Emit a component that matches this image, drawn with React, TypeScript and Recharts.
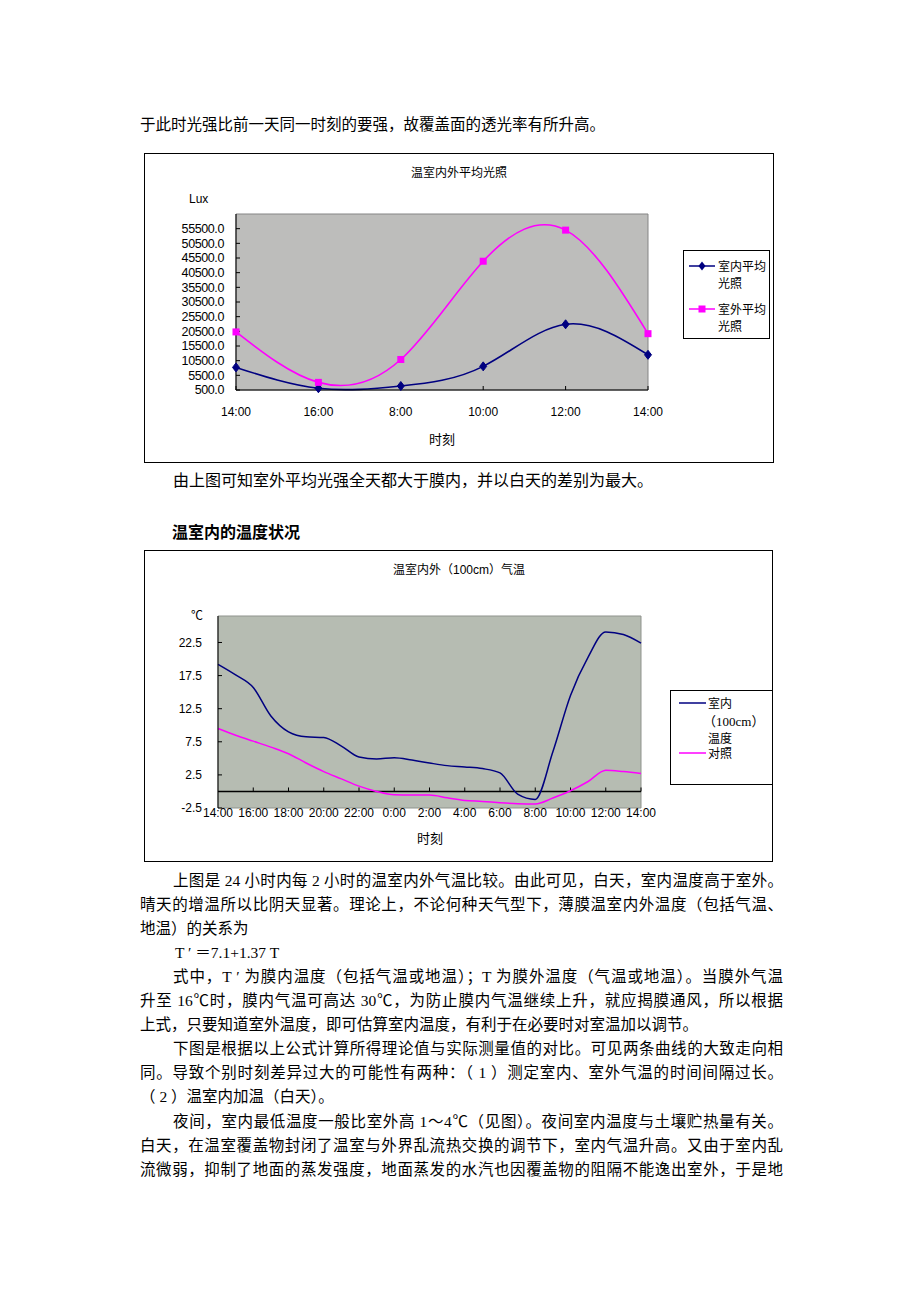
import React from 'react'
import { LineChart, Line, XAxis, YAxis, ReferenceArea, ReferenceLine, Legend } from 'recharts'

// 温室内外平均光照
const lightTimes = ['14:00', '16:00', '8:00', '10:00', '12:00', '14:00']
const lightInside = [8200, 1100, 1860, 8560, 22900, 12500]
const lightOutside = [20300, 3100, 10900, 44400, 55000, 19700]
const lightTicks = [500, 5500, 10500, 15500, 20500, 25500, 30500, 35500, 40500, 45500, 50500, 55500]

// 温室内外（100cm）气温, hourly readings
const tempTimes = [
  '14:00', '15:00', '16:00', '17:00', '18:00', '19:00', '20:00', '21:00', '22:00', '23:00', '0:00', '1:00',
  '2:00', '3:00', '4:00', '5:00', '6:00', '7:00', '8:00', '9:00', '10:00', '11:00', '12:00', '13:00', '14:00',
]
const tempInside = [
  19.2, 17.6, 15.7, 11.4, 9.0, 8.25, 8.15, 6.85, 5.2, 4.9, 5.1, 4.75,
  4.3, 3.9, 3.7, 3.45, 2.8, -0.4, -1.2, 6.0, 14.5, 20.3, 24.1, 23.7, 22.4,
]
const tempOutside = [
  9.5, 8.5, 7.6, 6.7, 5.7, 4.3, 3.0, 1.9, 0.8, 0.0, -0.5, -0.55,
  -0.55, -0.95, -1.35, -1.5, -1.7, -1.85, -1.9, -1.0, 0.1, 1.5, 3.2, 3.0, 2.7,
]
const tempTicks = [-2.5, 2.5, 7.5, 12.5, 17.5, 22.5]

const bodyLines = [
  { text: '上图是 24 小时内每 2 小时的温室内外气温比较。由此可见，白天，室内温度高于室外。', indent: true, full: true },
  { text: '晴天的增温所以比阴天显著。理论上，不论何种天气型下，薄膜温室内外温度（包括气温、', full: true },
  { text: '地温）的关系为' },
  { text: 'T ′ ＝7.1+1.37 T', indent: true },
  { text: '式中，T ′ 为膜内温度（包括气温或地温）；T 为膜外温度（气温或地温）。当膜外气温', indent: true, full: true },
  { text: '升至 16℃时，膜内气温可高达 30℃，为防止膜内气温继续上升，就应揭膜通风，所以根据', full: true },
  { text: '上式，只要知道室外温度，即可估算室内温度，有利于在必要时对室温加以调节。' },
  { text: '下图是根据以上公式计算所得理论值与实际测量值的对比。可见两条曲线的大致走向相', indent: true, full: true },
  { text: '同。导致个别时刻差异过大的可能性有两种：（ 1 ）测定室内、室外气温的时间间隔过长。', full: true },
  { text: '（ 2 ）温室内加温（白天）。' },
  { text: '夜间，室内最低温度一般比室外高 1～4℃（见图）。夜间室内温度与土壤贮热量有关。', indent: true, full: true },
  { text: '白天，在温室覆盖物封闭了温室与外界乱流热交换的调节下，室内气温升高。又由于室内乱', full: true },
  { text: '流微弱，抑制了地面的蒸发强度，地面蒸发的水汽也因覆盖物的阻隔不能逸出室外，于是地', full: true },
]

const CJK = '"Noto Sans CJK SC", sans-serif'
const SERIF = '"Liberation Serif", "Noto Sans CJK SC", serif'
const SANS = '"Liberation Sans", "Noto Sans CJK SC", sans-serif'
const NAVY = '#000080'
const PINK = '#ff00ff'

const lightData = lightTimes.map((t, i) => ({ i, inside: lightInside[i], outside: lightOutside[i] }))
const tempData = tempTimes.map((t, i) => ({ i, inside: tempInside[i], outside: tempOutside[i] }))

const diamondPath = (cx: number, cy: number) => `M${cx},${cy - 4.5}L${cx + 3.5},${cy}L${cx},${cy + 4.5}L${cx - 3.5},${cy}Z`

function DiamondDot(props: any) {
  const { cx, cy, index } = props
  if (cx == null || cy == null) return <g key={`dd-${index}`} />
  return <path key={`dd-${index}`} d={diamondPath(cx, cy)} fill={NAVY} stroke={NAVY} />
}

function SquareDot(props: any) {
  const { cx, cy, index } = props
  if (cx == null || cy == null) return <g key={`sd-${index}`} />
  return <rect key={`sd-${index}`} x={cx - 3.5} y={cy - 3.5} width={7} height={7} fill={PINK} />
}

function Abs({ x, y, center, size = 12, font = SANS, bold, children }: any) {
  return (
    <div
      style={{
        position: 'absolute',
        left: center ? x - 100 : x,
        top: y - 10,
        width: center ? 200 : undefined,
        textAlign: center ? 'center' : 'left',
        lineHeight: '20px',
        fontSize: size,
        fontFamily: font,
        fontWeight: bold ? 'bold' : 'normal',
        whiteSpace: 'nowrap',
        color: '#000',
      }}
    >
      {children}
    </div>
  )
}

function LightLegend() {
  return (
    <div style={{ position: 'relative', width: 87, height: 89, border: '1px solid #000', boxSizing: 'border-box', background: '#fff', fontFamily: CJK, fontSize: 12, color: '#000' }}>
      <svg style={{ position: 'absolute', left: 5, top: 9 }} width={26} height={12}>
        <line x1={0} y1={6} x2={26} y2={6} stroke={NAVY} strokeWidth={1.5} />
        <path d={diamondPath(13, 6)} fill={NAVY} />
      </svg>
      <div style={{ position: 'absolute', left: 34, top: 6, lineHeight: '17px' }}>室内平均<br />光照</div>
      <svg style={{ position: 'absolute', left: 5, top: 52 }} width={26} height={12}>
        <line x1={0} y1={6} x2={26} y2={6} stroke={PINK} strokeWidth={1.5} />
        <rect x={9.5} y={2.5} width={7} height={7} fill={PINK} />
      </svg>
      <div style={{ position: 'absolute', left: 34, top: 49, lineHeight: '17px' }}>室外平均<br />光照</div>
    </div>
  )
}

function TempLegend() {
  return (
    <div style={{ position: 'relative', width: 103, height: 95, border: '1px solid #000', boxSizing: 'border-box', background: '#fff', fontFamily: CJK, fontSize: 12, color: '#000' }}>
      <svg style={{ position: 'absolute', left: 8, top: 6 }} width={27} height={12}>
        <line x1={0} y1={6} x2={27} y2={6} stroke={NAVY} strokeWidth={1.5} />
      </svg>
      <div style={{ position: 'absolute', left: 37, top: 4, lineHeight: '16px' }}>室内</div>
      <div style={{ position: 'absolute', left: 32, top: 23, lineHeight: '16px', fontFamily: SERIF, fontSize: 13 }}>（100cm）</div>
      <div style={{ position: 'absolute', left: 37, top: 39, lineHeight: '16px' }}>温度</div>
      <svg style={{ position: 'absolute', left: 8, top: 56 }} width={27} height={12}>
        <line x1={0} y1={6} x2={27} y2={6} stroke={PINK} strokeWidth={1.5} />
      </svg>
      <div style={{ position: 'absolute', left: 37, top: 54, lineHeight: '16px' }}>对照</div>
    </div>
  )
}

const tickStyle = { fontSize: 12, fill: '#000', fontFamily: SANS }

function LightChart() {
  return (
    <div style={{ position: 'absolute', left: 144, top: 153, width: 630, height: 310, border: '1px solid #000', boxSizing: 'border-box', background: '#fff' }}>
      <LineChart width={628} height={308} data={lightData} margin={{ top: 60, right: 125, left: 0, bottom: 42 }}>
        <ReferenceArea x1={0} x2={5} y1={500} y2={60500} fill="#bdbdbb" fillOpacity={1} stroke="#858585" ifOverflow="visible" />
        <XAxis
          dataKey="i"
          tickFormatter={(v) => lightTimes[v]}
          interval={0}
          height={30}
          axisLine={{ stroke: '#000' }}
          tickLine={{ stroke: '#000' }}
          tickSize={-4}
          tickMargin={21}
          tick={tickStyle}
        />
        <YAxis
          width={91}
          domain={[500, 60500]}
          ticks={lightTicks}
          interval={0}
          tickFormatter={(v) => Number(v).toFixed(1)}
          axisLine={{ stroke: '#000' }}
          tickLine={{ stroke: '#000' }}
          tickSize={-4}
          tickMargin={16}
          tick={{ ...tickStyle, fontSize: 12.5, letterSpacing: -0.4 }}
        />
        <Line dataKey="inside" name="室内平均光照" type="natural" stroke={NAVY} strokeWidth={1.6} dot={DiamondDot} isAnimationActive={false} />
        <Line dataKey="outside" name="室外平均光照" type="natural" stroke={PINK} strokeWidth={1.6} dot={SquareDot} isAnimationActive={false} />
        <Legend layout="vertical" align="center" verticalAlign="middle" wrapperStyle={{ left: 538, top: 96, width: 87 }} content={() => <LightLegend />} />
      </LineChart>
      <Abs x={314} y={19} center>温室内外平均光照</Abs>
      <Abs x={44} y={45}>Lux</Abs>
      <Abs x={297} y={285} center size={13} font={CJK}>时刻</Abs>
    </div>
  )
}

function TempChart() {
  return (
    <div style={{ position: 'absolute', left: 144, top: 550, width: 629, height: 312, border: '1px solid #000', boxSizing: 'border-box', background: '#fff' }}>
      <LineChart width={627} height={310} data={tempData} margin={{ top: 65, right: 131, left: 0, bottom: 33 }}>
        <ReferenceArea x1={0} x2={24} y1={-2.5} y2={26.5} fill="#b6bcb2" fillOpacity={1} stroke="#8f938d" ifOverflow="visible" />
        <XAxis
          dataKey="i"
          tickFormatter={(v) => tempTimes[v]}
          interval={1}
          height={20}
          axisLine={false}
          tickLine={false}
          tickSize={0}
          tickMargin={0}
          tick={tickStyle}
        />
        <YAxis
          width={73}
          domain={[-2.5, 26.5]}
          ticks={tempTicks}
          interval={0}
          tickFormatter={(v) => String(v)}
          axisLine={{ stroke: '#000' }}
          tickLine={{ stroke: '#000' }}
          tickSize={-4}
          tickMargin={20}
          tick={tickStyle}
        />
        <ReferenceLine y={0} stroke="#000" strokeWidth={1.5} />
        {tempTimes.map((t, i) =>
          i > 0 && i % 2 === 0 ? (
            <ReferenceLine key={t + i} segment={[{ x: i, y: 0 }, { x: i, y: 0.6 }]} stroke="#000" />
          ) : null,
        )}
        <Line dataKey="inside" name="室内（100cm）温度" type="monotone" stroke={NAVY} strokeWidth={1.5} dot={false} isAnimationActive={false} />
        <Line dataKey="outside" name="对照" type="monotone" stroke={PINK} strokeWidth={1.5} dot={false} isAnimationActive={false} />
        <Legend layout="vertical" align="center" verticalAlign="middle" wrapperStyle={{ left: 525, top: 139, width: 103 }} content={() => <TempLegend />} />
      </LineChart>
      <Abs x={314} y={19} center>温室内外（100cm）气温</Abs>
      <Abs x={46} y={64} font={CJK}>℃</Abs>
      <Abs x={285} y={287} center size={13} font={CJK}>时刻</Abs>
    </div>
  )
}

export default function App() {
  return (
    <div style={{ position: 'absolute', left: 0, top: 0, width: 920, height: 1302, background: '#fff', color: '#000' }}>
      <div style={{ position: 'absolute', left: 140, top: 113, fontSize: 15.5, lineHeight: '24px', fontFamily: SERIF, whiteSpace: 'nowrap' }}>
        于此时光强比前一天同一时刻的要强，故覆盖面的透光率有所升高。
      </div>
      <LightChart />
      <div style={{ position: 'absolute', left: 173, top: 469, fontSize: 16, lineHeight: '24px', fontFamily: SERIF, whiteSpace: 'nowrap' }}>
        由上图可知室外平均光强全天都大于膜内，并以白天的差别为最大。
      </div>
      <div style={{ position: 'absolute', left: 172, top: 519, fontSize: 16, lineHeight: '24px', fontFamily: CJK, fontWeight: 'bold', whiteSpace: 'nowrap' }}>
        温室内的温度状况
      </div>
      <TempChart />
      {bodyLines.map((l, k) => (
        <div
          key={k}
          style={{
            position: 'absolute',
            left: l.text.startsWith('T') ? 175 : l.indent ? 173 : 140,
            top: 868.5 + k * 24.1,
            width: l.indent ? 610 : 643,
            fontSize: 15.5,
            lineHeight: '24px',
            fontFamily: SERIF,
            textAlign: l.full ? 'justify' : 'left',
            textAlignLast: l.full ? 'justify' : 'auto',
          }}
        >
          {l.text}
        </div>
      ))}
    </div>
  )
}
